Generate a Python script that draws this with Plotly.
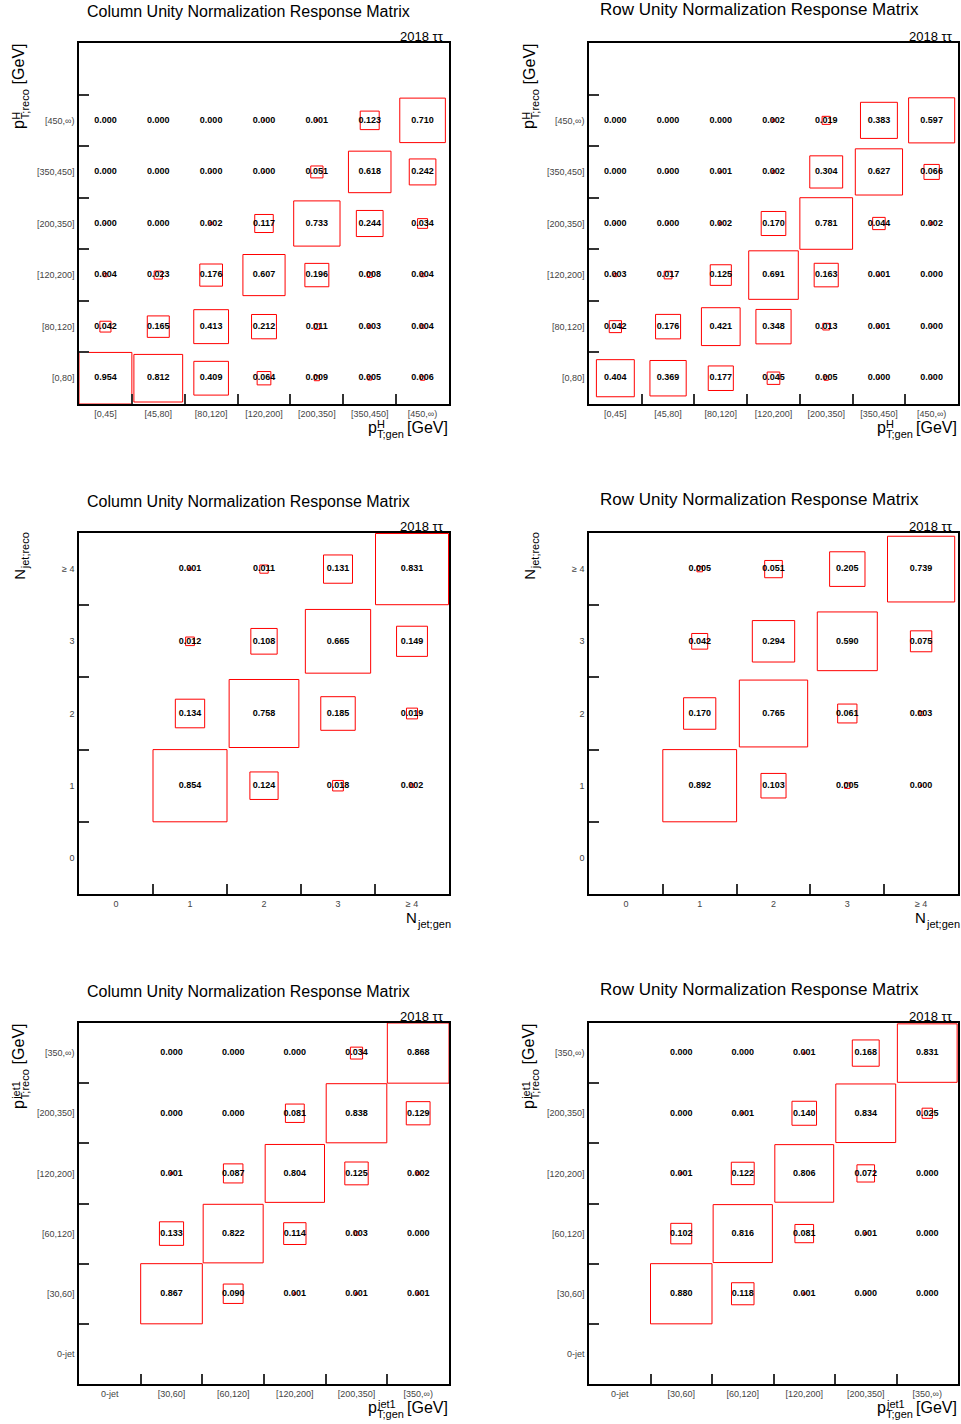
import plotly.graph_objects as go

# ---------------------------------------------------------------- bin labels
PTH_GEN_BINS = ["[0,45]", "[45,80]", "[80,120]", "[120,200]", "[200,350]", "[350,450]", "[450,∞)"]
PTH_RECO_BINS = ["[0,80]", "[80,120]", "[120,200]", "[200,350]", "[350,450]", "[450,∞)", ""]
NJET_BINS = ["0", "1", "2", "3", "≥ 4"]
PTJ1_BINS = ["0-jet", "[30,60]", "[60,120]", "[120,200]", "[200,350]", "[350,∞)"]

# ------------------------------------------------------ response matrices
# rows = reco bins (bottom to top), columns = gen bins (left to right)
PTH_COL_NORM = [
    [0.954, 0.812, 0.409, 0.064, 0.009, 0.005, 0.006],
    [0.042, 0.165, 0.413, 0.212, 0.011, 0.003, 0.004],
    [0.004, 0.023, 0.176, 0.607, 0.196, 0.008, 0.004],
    [0.0003, 0.000, 0.002, 0.117, 0.733, 0.244, 0.034],
    [0.000, 0.000, 0.0003, 0.0003, 0.051, 0.618, 0.242],
    [0.000, 0.000, 0.000, 0.0003, 0.001, 0.123, 0.710],
]
PTH_ROW_NORM = [
    [0.404, 0.369, 0.177, 0.045, 0.005, 0.0003, 0.0003],
    [0.042, 0.176, 0.421, 0.348, 0.013, 0.001, 0.0003],
    [0.003, 0.017, 0.125, 0.691, 0.163, 0.001, 0.000],
    [0.0003, 0.0003, 0.002, 0.170, 0.781, 0.044, 0.002],
    [0.000, 0.0003, 0.001, 0.002, 0.304, 0.627, 0.066],
    [0.000, 0.000, 0.000, 0.002, 0.019, 0.383, 0.597],
]
NJET_COL_NORM = [
    [None, None, None, None, None],
    [None, 0.854, 0.124, 0.018, 0.002],
    [None, 0.134, 0.758, 0.185, 0.019],
    [None, 0.012, 0.108, 0.665, 0.149],
    [None, 0.001, 0.011, 0.131, 0.831],
]
NJET_ROW_NORM = [
    [None, None, None, None, None],
    [None, 0.892, 0.103, 0.005, 0.0003],
    [None, 0.170, 0.765, 0.061, 0.003],
    [None, 0.042, 0.294, 0.590, 0.075],
    [None, 0.005, 0.051, 0.205, 0.739],
]
PTJ1_COL_NORM = [
    [None, None, None, None, None, None],
    [None, 0.867, 0.090, 0.001, 0.001, 0.001],
    [None, 0.133, 0.822, 0.114, 0.003, 0.000],
    [None, 0.001, 0.087, 0.804, 0.125, 0.002],
    [None, 0.000, 0.000, 0.081, 0.838, 0.129],
    [None, 0.000, 0.000, 0.000, 0.034, 0.868],
]
PTJ1_ROW_NORM = [
    [None, None, None, None, None, None],
    [None, 0.880, 0.118, 0.001, 0.0003, 0.000],
    [None, 0.102, 0.816, 0.081, 0.001, 0.000],
    [None, 0.001, 0.122, 0.806, 0.072, 0.000],
    [None, 0.000, 0.001, 0.140, 0.834, 0.025],
    [None, 0.000, 0.000, 0.001, 0.168, 0.831],
]

TITLE_COL = "Column Unity Normalization Response Matrix"
TITLE_ROW = "Row Unity Normalization Response Matrix"
CHANNEL_LABEL = "2018 ττ"

# ------------------------------------------------------------------ layout
W, H = 961, 1424
FONT = "Liberation Sans, Arial, Helvetica, sans-serif"

# frame boxes in pixels: (left, top, right, bottom)
FRAMES = [
    (79, 43, 449, 404), (589, 43, 958, 404),
    (79, 533, 449, 894), (589, 533, 958, 894),
    (79, 1023, 449, 1384), (589, 1023, 958, 1384),
]

PANELS = [
    dict(z=PTH_COL_NORM, xb=PTH_GEN_BINS, yb=PTH_RECO_BINS, title=TITLE_COL,
         xt=("p", "H", "T;gen", "[GeV]"), yt=("p", "H", "T;reco", "[GeV]")),
    dict(z=PTH_ROW_NORM, xb=PTH_GEN_BINS, yb=PTH_RECO_BINS, title=TITLE_ROW,
         xt=("p", "H", "T;gen", "[GeV]"), yt=("p", "H", "T;reco", "[GeV]")),
    dict(z=NJET_COL_NORM, xb=NJET_BINS, yb=NJET_BINS, title=TITLE_COL,
         xt=("N", None, "jet;gen", None), yt=("N", None, "jet;reco", None)),
    dict(z=NJET_ROW_NORM, xb=NJET_BINS, yb=NJET_BINS, title=TITLE_ROW,
         xt=("N", None, "jet;gen", None), yt=("N", None, "jet;reco", None)),
    dict(z=PTJ1_COL_NORM, xb=PTJ1_BINS, yb=PTJ1_BINS, title=TITLE_COL,
         xt=("p", "jet1", "T;gen", "[GeV]"), yt=("p", "jet1", "T;reco", "[GeV]")),
    dict(z=PTJ1_ROW_NORM, xb=PTJ1_BINS, yb=PTJ1_BINS, title=TITLE_ROW,
         xt=("p", "jet1", "T;gen", "[GeV]"), yt=("p", "jet1", "T;reco", "[GeV]")),
]

# Helvetica advance widths (per 1000 em) for title layout
ADV = {'p': 556, 'H': 722, 'T': 611, ';': 278, 'g': 556, 'e': 556, 'n': 556,
       'r': 333, 'c': 500, 'o': 556, 'j': 222, 't': 278, '1': 556, 'N': 722,
       '[': 278, 'G': 778, 'V': 667, ']': 278, ' ': 278}


def tw(s, size):
    return sum(ADV.get(c, 556) for c in s) * size / 1000.0


def px(x):
    return x / W


def py(y):
    return 1 - y / H


fig = go.Figure()


def label(x, y_base, text, size, xanchor="center", angle=0, color="black"):
    """Place text in pixel space. Unrotated: y_base is the baseline.
    Rotated: x is the baseline and y_base the centre along the text."""
    if angle == 0:
        fig.add_annotation(x=px(x), y=py(y_base - 0.3465 * size), xref="paper", yref="paper",
                           text=text, showarrow=False, xanchor=xanchor, yanchor="middle",
                           font=dict(family=FONT, size=size, color=color), borderpad=0)
    else:
        fig.add_annotation(x=px(x - 0.3465 * size), y=py(y_base), xref="paper", yref="paper",
                           text=text, showarrow=False, xanchor="center", yanchor="middle",
                           textangle=-90, font=dict(family=FONT, size=size, color=color),
                           borderpad=0)


def axis_title(frame, parts, horizontal):
    x0, y0, x1, y1 = frame
    main, sup, sub, unit = parts
    ms = 16 if main == "p" else 15
    ss = 11
    w_main = tw(main, ms)
    w_block = max(tw(sup or "", ss), tw(sub or "", ss))
    w_unit = tw(" " + unit, ms) if unit else 0.0
    total = w_main + w_block + w_unit
    if horizontal:
        start = x1 - total
        base = y1 + 29
        label(start, base, main, ms, xanchor="left")
        if sup:
            label(start + w_main, base - 5.5, sup, ss, xanchor="left")
        if sub:
            label(start + w_main, base + 4.5, sub, ss, xanchor="left")
        if unit:
            label(x1, base, unit, ms, xanchor="right")
    else:
        start = y0 + total  # bottom end of the rotated title
        base = x0 - 54.5
        label(base, start - w_main / 2, main, ms, angle=-90)
        if sup:
            label(base - 5.5, start - w_main - tw(sup, ss) / 2, sup, ss, angle=-90)
        if sub:
            label(base + 4.5, start - w_main - tw(sub, ss) / 2, sub, ss, angle=-90)
        if unit:
            label(base, y0 + tw(unit, ms) / 2, unit, ms, angle=-90)


layout_axes = {}
for k, (panel, frame) in enumerate(zip(PANELS, FRAMES)):
    idx = "" if k == 0 else str(k + 1)
    xa, ya = "x" + idx, "y" + idx
    x0, y0, x1, y1 = frame
    z = panel["z"]
    nx, ny = len(panel["xb"]), len(panel["yb"])
    vmax = max(v for row in z for v in row if v is not None)

    # boxes: side length proportional to sqrt(content / max)
    bx, by = [], []
    tx, ty, tt = [], [], []
    for j, row in enumerate(z):
        for i, v in enumerate(row):
            if v is None:
                continue
            tx.append(i)
            ty.append(j)
            tt.append(f"{v:.3f}")
            if v > 0:
                h = 0.5 * (v / vmax) ** 0.5
                bx += [i - h, i + h, i + h, i - h, i - h, None]
                by += [j - h, j - h, j + h, j + h, j - h, None]

    fig.add_trace(go.Scatter(x=bx, y=by, mode="lines", line=dict(color="#ff0000", width=1),
                             hoverinfo="skip", showlegend=False, xaxis=xa, yaxis=ya))
    fig.add_trace(go.Scatter(x=tx, y=ty, mode="text", text=tt,
                             textfont=dict(family=FONT, size=9, color="black", weight="bold"),
                             hoverinfo="skip", showlegend=False, xaxis=xa, yaxis=ya))

    common = dict(showgrid=False, zeroline=False, showline=True, mirror=True,
                  linecolor="black", linewidth=1.5, ticks="",
                  tickfont=dict(family=FONT, size=9, color="#444"), fixedrange=True)
    layout_axes["xaxis" + idx] = dict(
        common, domain=[px(x0), px(x1)], anchor=ya, range=[-0.5, nx - 0.5],
        tickmode="array", tickvals=list(range(nx)), ticktext=panel["xb"],
        ticklabelstandoff=0,
        minor=dict(tickmode="array", tickvals=[i + 0.5 for i in range(nx - 1)],
                   ticks="inside", ticklen=10, tickwidth=1.5, tickcolor="#333", showgrid=False))
    layout_axes["yaxis" + idx] = dict(
        common, domain=[py(y1), py(y0)], anchor=xa, range=[-0.5, ny - 0.5],
        tickmode="array", tickvals=list(range(ny)), ticktext=panel["yb"],
        ticklabelstandoff=1,
        minor=dict(tickmode="array", tickvals=[j + 0.5 for j in range(ny - 1)],
                   ticks="inside", ticklen=10, tickwidth=1.5, tickcolor="#333", showgrid=False))

    # panel title and channel label
    left_col = (k % 2 == 0)
    if left_col:
        label((x0 + x1) / 2 - 15, y0 - 26.0, panel["title"], 16)
    else:
        label((x0 + x1) / 2 - 14.5, y0 - 27.5, panel["title"], 17)
    label(x1 - 4, y0 - 2, CHANNEL_LABEL, 13, xanchor="right")

    axis_title(frame, panel["xt"], True)
    axis_title(frame, panel["yt"], False)

fig.update_layout(
    width=W, height=H, margin=dict(l=0, r=0, t=0, b=0),
    paper_bgcolor="white", plot_bgcolor="white",
    font=dict(family=FONT), showlegend=False,
    **layout_axes,
)

fig.write_html("out.html")
